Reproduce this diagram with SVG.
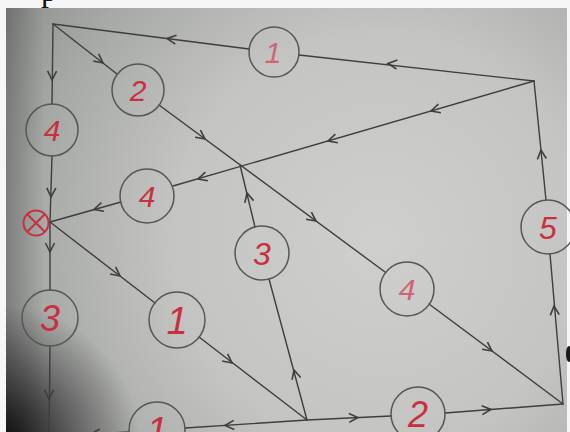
<svg xmlns="http://www.w3.org/2000/svg" width="570" height="432" viewBox="0 0 570 432">
<defs>
<radialGradient id="paper" gradientUnits="userSpaceOnUse" cx="380" cy="240" r="460">
<stop offset="0" stop-color="#cfd0cd"/>
<stop offset="0.45" stop-color="#c4c5c2"/>
<stop offset="0.75" stop-color="#a8aaa8"/>
<stop offset="1" stop-color="#8a8c8a"/>
</radialGradient>
<radialGradient id="shade" gradientUnits="userSpaceOnUse" cx="0" cy="445" r="140">
<stop offset="0" stop-color="#000" stop-opacity="0.92"/>
<stop offset="0.5" stop-color="#000" stop-opacity="0.45"/>
<stop offset="1" stop-color="#000" stop-opacity="0"/>
</radialGradient>
<linearGradient id="leftshade" gradientUnits="userSpaceOnUse" x1="6" y1="0" x2="45" y2="0">
<stop offset="0" stop-color="#000" stop-opacity="0.22"/>
<stop offset="1" stop-color="#000" stop-opacity="0"/>
</linearGradient>
<path id="chev" d="M-9,-4.5 L0,0 L-9,4.5"/>
<style>
.ln{stroke:#3d3e3d;stroke-width:1.4;fill:none;stroke-linecap:round}
.ar{stroke:#3d3e3d;stroke-width:1.6;fill:none;stroke-linejoin:miter}
.nd{stroke:#555755;stroke-width:1.5;fill:none}
.lb{font-family:"Liberation Sans",Arial,sans-serif;font-style:italic;text-anchor:middle;fill:#c8303f}
.lt{fill:#d06476}
</style>
</defs>
<rect x="0" y="0" width="570" height="432" fill="#f6f6f6"/>
<text x="41" y="0.5" font-family="Liberation Serif,serif" font-size="32" fill="#111">р</text>
<rect x="6" y="8" width="561" height="430" fill="url(#paper)"/>
<rect x="6" y="8" width="561" height="430" fill="url(#shade)"/>
<rect x="6" y="8" width="561" height="430" fill="url(#leftshade)"/>
<ellipse cx="569" cy="354" rx="3" ry="8" fill="#1a1a1a"/>

<g id="connectors">
<line class="ln" x1="534" y1="81" x2="299" y2="55"/>
<line class="ln" x1="249" y1="49" x2="53" y2="24"/>
<line class="ln" x1="53" y1="24" x2="52" y2="104"/>
<line class="ln" x1="52" y1="156" x2="50" y2="222"/>
<line class="ln" x1="53" y1="24" x2="117" y2="74"/>
<line class="ln" x1="159" y1="105" x2="385" y2="272"/>
<line class="ln" x1="429" y1="304" x2="563" y2="404"/>
<line class="ln" x1="534" y1="81" x2="173" y2="186"/>
<line class="ln" x1="121" y1="202" x2="50" y2="222"/>
<line class="ln" x1="50" y1="222" x2="155" y2="303"/>
<line class="ln" x1="199" y1="337" x2="307" y2="420"/>
<line class="ln" x1="50" y1="222" x2="50" y2="290"/>
<line class="ln" x1="50" y1="346" x2="49" y2="436"/>
<line class="ln" x1="307" y1="420" x2="269" y2="279"/>
<line class="ln" x1="255" y1="227" x2="240" y2="165"/>
<line class="ln" x1="307" y1="420" x2="391" y2="416"/>
<line class="ln" x1="445" y1="413" x2="563" y2="404"/>
<line class="ln" x1="563" y1="404" x2="550" y2="254"/>
<line class="ln" x1="546" y1="200" x2="534" y2="81"/>
<line class="ln" x1="307" y1="420" x2="185" y2="428"/>
<line class="ln" x1="129" y1="432" x2="50" y2="436"/>
<use href="#chev" class="ar" transform="translate(388,63.5) rotate(186.4)"/>
<use href="#chev" class="ar" transform="translate(167,38.5) rotate(187.2)"/>
<use href="#chev" class="ar" transform="translate(52,80) rotate(90.5)"/>
<use href="#chev" class="ar" transform="translate(51,197) rotate(92)"/>
<use href="#chev" class="ar" transform="translate(103,63) rotate(37.8)"/>
<use href="#chev" class="ar" transform="translate(205,139) rotate(36.4)"/>
<use href="#chev" class="ar" transform="translate(316,221) rotate(36.4)"/>
<use href="#chev" class="ar" transform="translate(492,351) rotate(36.6)"/>
<use href="#chev" class="ar" transform="translate(431,111) rotate(163.8)"/>
<use href="#chev" class="ar" transform="translate(328,141) rotate(163.8)"/>
<use href="#chev" class="ar" transform="translate(198,179) rotate(163.8)"/>
<use href="#chev" class="ar" transform="translate(94,209.5) rotate(163.8)"/>
<use href="#chev" class="ar" transform="translate(120,276) rotate(37.6)"/>
<use href="#chev" class="ar" transform="translate(232,363) rotate(37.6)"/>
<use href="#chev" class="ar" transform="translate(50,252) rotate(90)"/>
<use href="#chev" class="ar" transform="translate(49,399) rotate(90)"/>
<use href="#chev" class="ar" transform="translate(294,370) rotate(255)"/>
<use href="#chev" class="ar" transform="translate(247,193) rotate(256)"/>
<use href="#chev" class="ar" transform="translate(358,417.5) rotate(-2.6)"/>
<use href="#chev" class="ar" transform="translate(491,409.5) rotate(-4.4)"/>
<use href="#chev" class="ar" transform="translate(554,306) rotate(265.2)"/>
<use href="#chev" class="ar" transform="translate(541,150) rotate(264.5)"/>
<use href="#chev" class="ar" transform="translate(225,425.5) rotate(176.2)"/>
<use href="#chev" class="ar" transform="translate(91,434) rotate(177)"/>
</g>

<g id="node-1-top"><circle class="nd" cx="274" cy="52" r="25"/><text class="lb lt" x="273" y="63" font-size="30">1</text></g>
<g id="node-2-top"><circle class="nd" cx="138" cy="90" r="26"/><text class="lb" x="138" y="101" font-size="30">2</text></g>
<g id="node-4-left"><circle class="nd" cx="52" cy="130" r="26"/><text class="lb" x="52" y="141" font-size="30">4</text></g>
<g id="node-4-mid"><circle class="nd" cx="147" cy="196" r="27"/><text class="lb" x="147" y="207" font-size="30">4</text></g>
<g id="node-3-mid"><circle class="nd" cx="262" cy="253" r="27"/><text class="lb" x="262" y="265" font-size="32">3</text></g>
<g id="node-5"><circle class="nd" cx="548" cy="227" r="27"/><text class="lb" x="548" y="239" font-size="32">5</text></g>
<g id="node-4-right"><circle class="nd" cx="407" cy="289" r="27"/><text class="lb lt" x="407" y="300" font-size="30">4</text></g>
<g id="node-3-left"><circle class="nd" cx="50" cy="318" r="28"/><text class="lb" x="50" y="331" font-size="36">3</text></g>
<g id="node-1-mid"><circle class="nd" cx="177" cy="320" r="28"/><text class="lb" x="177" y="334" font-size="38">1</text></g>
<g id="node-1-bottom"><circle class="nd" cx="157" cy="430" r="28"/><text class="lb" x="157" y="444" font-size="38">1</text></g>
<g id="node-2-bottom"><circle class="nd" cx="418" cy="414" r="27"/><text class="lb" x="418" y="427" font-size="36">2</text></g>
<g id="node-source"><circle cx="36" cy="223" r="12.5" fill="none" stroke="#c8303f" stroke-width="2"/><path d="M27.2,214.2 L44.8,231.8 M44.8,214.2 L27.2,231.8" stroke="#c8303f" stroke-width="2" fill="none"/></g>
</svg>
